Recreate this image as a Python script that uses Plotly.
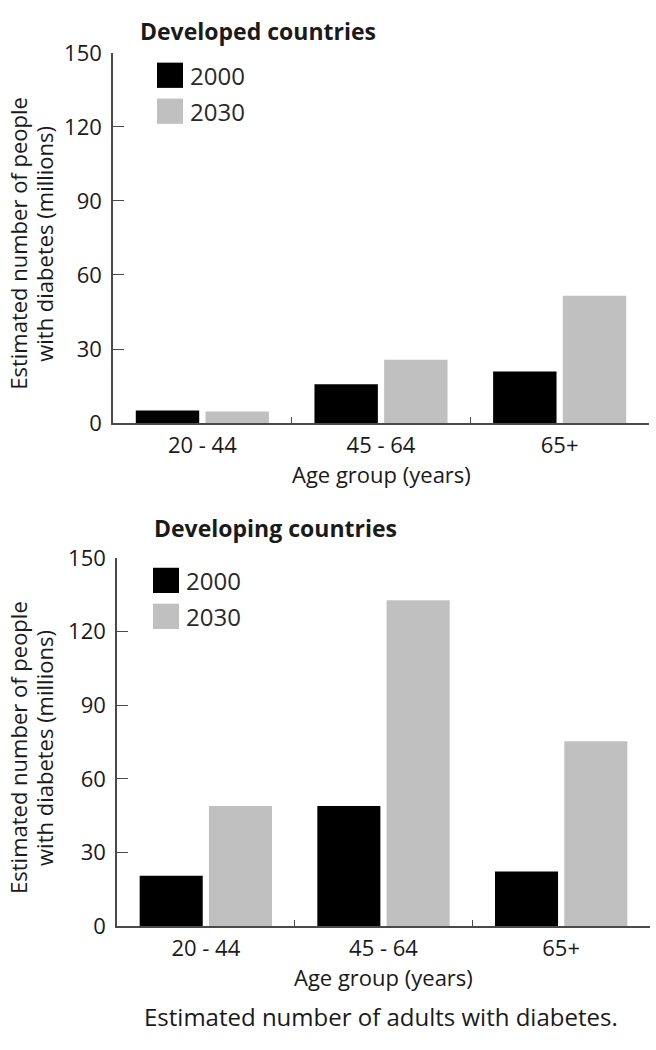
import plotly.graph_objects as go

# ---- data ----
age_groups = ["20 - 44", "45 - 64", "65+"]
years = ["2000", "2030"]
developed_2000 = [5.1, 15.7, 20.9]
developed_2030 = [4.7, 25.6, 51.6]
developing_2000 = [20.6, 49.0, 22.3]
developing_2030 = [49.0, 132.8, 75.4]
y_ticks = [0, 30, 60, 90, 120, 150]
panel_titles = ["Developed countries", "Developing countries"]
x_title = "Age group (years)"
y_title_lines = ["Estimated number of people", "with diabetes (millions)"]
caption = "Estimated number of adults with diabetes."

W, H = 656, 1050
colors = {"2000": "#000000", "2030": "#c0c0c0"}
FONT = "Open Sans"
TXT = "#1a1a1a"
AX = "#4a4a4a"


def xp(px):
    return px / W


def yp(py):
    return 1 - py / H


fig = go.Figure()

panels = [
    dict(vals={"2000": developed_2000, "2030": developed_2030}, xa="x", ya="y",
         xdom=(113, 649), ydom=(38, 419)),
    dict(vals={"2000": developing_2000, "2030": developing_2030}, xa="x2", ya="y2",
         xdom=(117, 650), ydom=(558, 937)),
]

for p in panels:
    for yr in years:
        fig.add_trace(go.Bar(
            x=age_groups, y=p["vals"][yr], name=yr,
            marker=dict(color=colors[yr], line=dict(width=0)),
            xaxis=p["xa"], yaxis=p["ya"], showlegend=False, hoverinfo="skip",
        ))

layout_axes = {}
annotations = []
shapes = []
for i, p in enumerate(panels):
    sfx = "" if i == 0 else "2"
    x0, x1 = p["xdom"]
    ytop, ybot = p["ydom"]
    layout_axes["xaxis" + sfx] = dict(
        domain=[xp(x0), xp(x1)], anchor="y" + sfx, type="category",
        showline=True, linecolor=AX, linewidth=1.5, showgrid=False, zeroline=False,
        ticks="inside", tickson="boundaries", ticklen=6, tickwidth=1.2, tickcolor=AX,
        tickfont=dict(family=FONT, size=22, color=TXT), ticklabelstandoff=2,
        fixedrange=True,
    )
    layout_axes["yaxis" + sfx] = dict(
        domain=[yp(ybot), yp(ytop)], anchor="x" + sfx, range=[0, 150],
        tickvals=y_ticks, showline=True, linecolor=AX, linewidth=1.5,
        showgrid=False, zeroline=False, ticks="inside", ticklen=11, tickwidth=1.2,
        tickcolor=AX, tickfont=dict(family=FONT, size=22, color=TXT),
        ticklabelstandoff=5, fixedrange=True,
    )
    title_x = 138 if i == 0 else 152
    title_y = 15 if i == 0 else 527
    annotations.append(dict(
        text="<b>" + panel_titles[i] + "</b>", x=xp(title_x), y=yp(title_y),
        xref="paper", yref="paper", xanchor="left", yanchor="middle",
        showarrow=False, font=dict(family=FONT, size=23, color=TXT)))
    annotations.append(dict(
        text=x_title, x=xp((x0 + x1) / 2), y=yp(ybot + 52),
        xref="paper", yref="paper", xanchor="center", yanchor="middle",
        showarrow=False, font=dict(family=FONT, size=22, color=TXT)))
    for k, line in enumerate(y_title_lines):
        annotations.append(dict(
            text=line, x=xp(18 + k * 26), y=yp((ytop + ybot) / 2 + 6),
            xref="paper", yref="paper", xanchor="center", yanchor="middle",
            textangle=-90, showarrow=False,
            font=dict(family=FONT, size=22, color=TXT)))
    sw_x0 = x0 + (44 if i == 0 else 36)
    for k, yr in enumerate(years):
        sy = ytop + 10 + k * 37
        shapes.append(dict(type="rect", xref="paper", yref="paper",
                           x0=xp(sw_x0), x1=xp(sw_x0 + 26),
                           y0=yp(sy + 26), y1=yp(sy),
                           fillcolor=colors[yr], line=dict(width=0)))
        annotations.append(dict(
            text=yr, x=xp(sw_x0 + 31), y=yp(sy + 13),
            xref="paper", yref="paper", xanchor="left", yanchor="middle",
            showarrow=False, font=dict(family=FONT, size=24, color="#2a2a2a")))

annotations.append(dict(
    text=caption, x=xp(381), y=yp(1030), xref="paper", yref="paper",
    xanchor="center", yanchor="middle", showarrow=False,
    font=dict(family=FONT, size=24, color=TXT)))

fig.update_layout(
    width=W, height=H, margin=dict(l=0, r=0, t=0, b=0),
    paper_bgcolor="white", plot_bgcolor="white",
    barmode="group", bargap=0.22, bargroupgap=0.09,
    showlegend=False, annotations=annotations, shapes=shapes,
    **layout_axes,
)

fig.write_html("out.html", config={"displayModeBar": False},
               post_script="document.body.style.margin='0';document.body.style.overflow='hidden';")
